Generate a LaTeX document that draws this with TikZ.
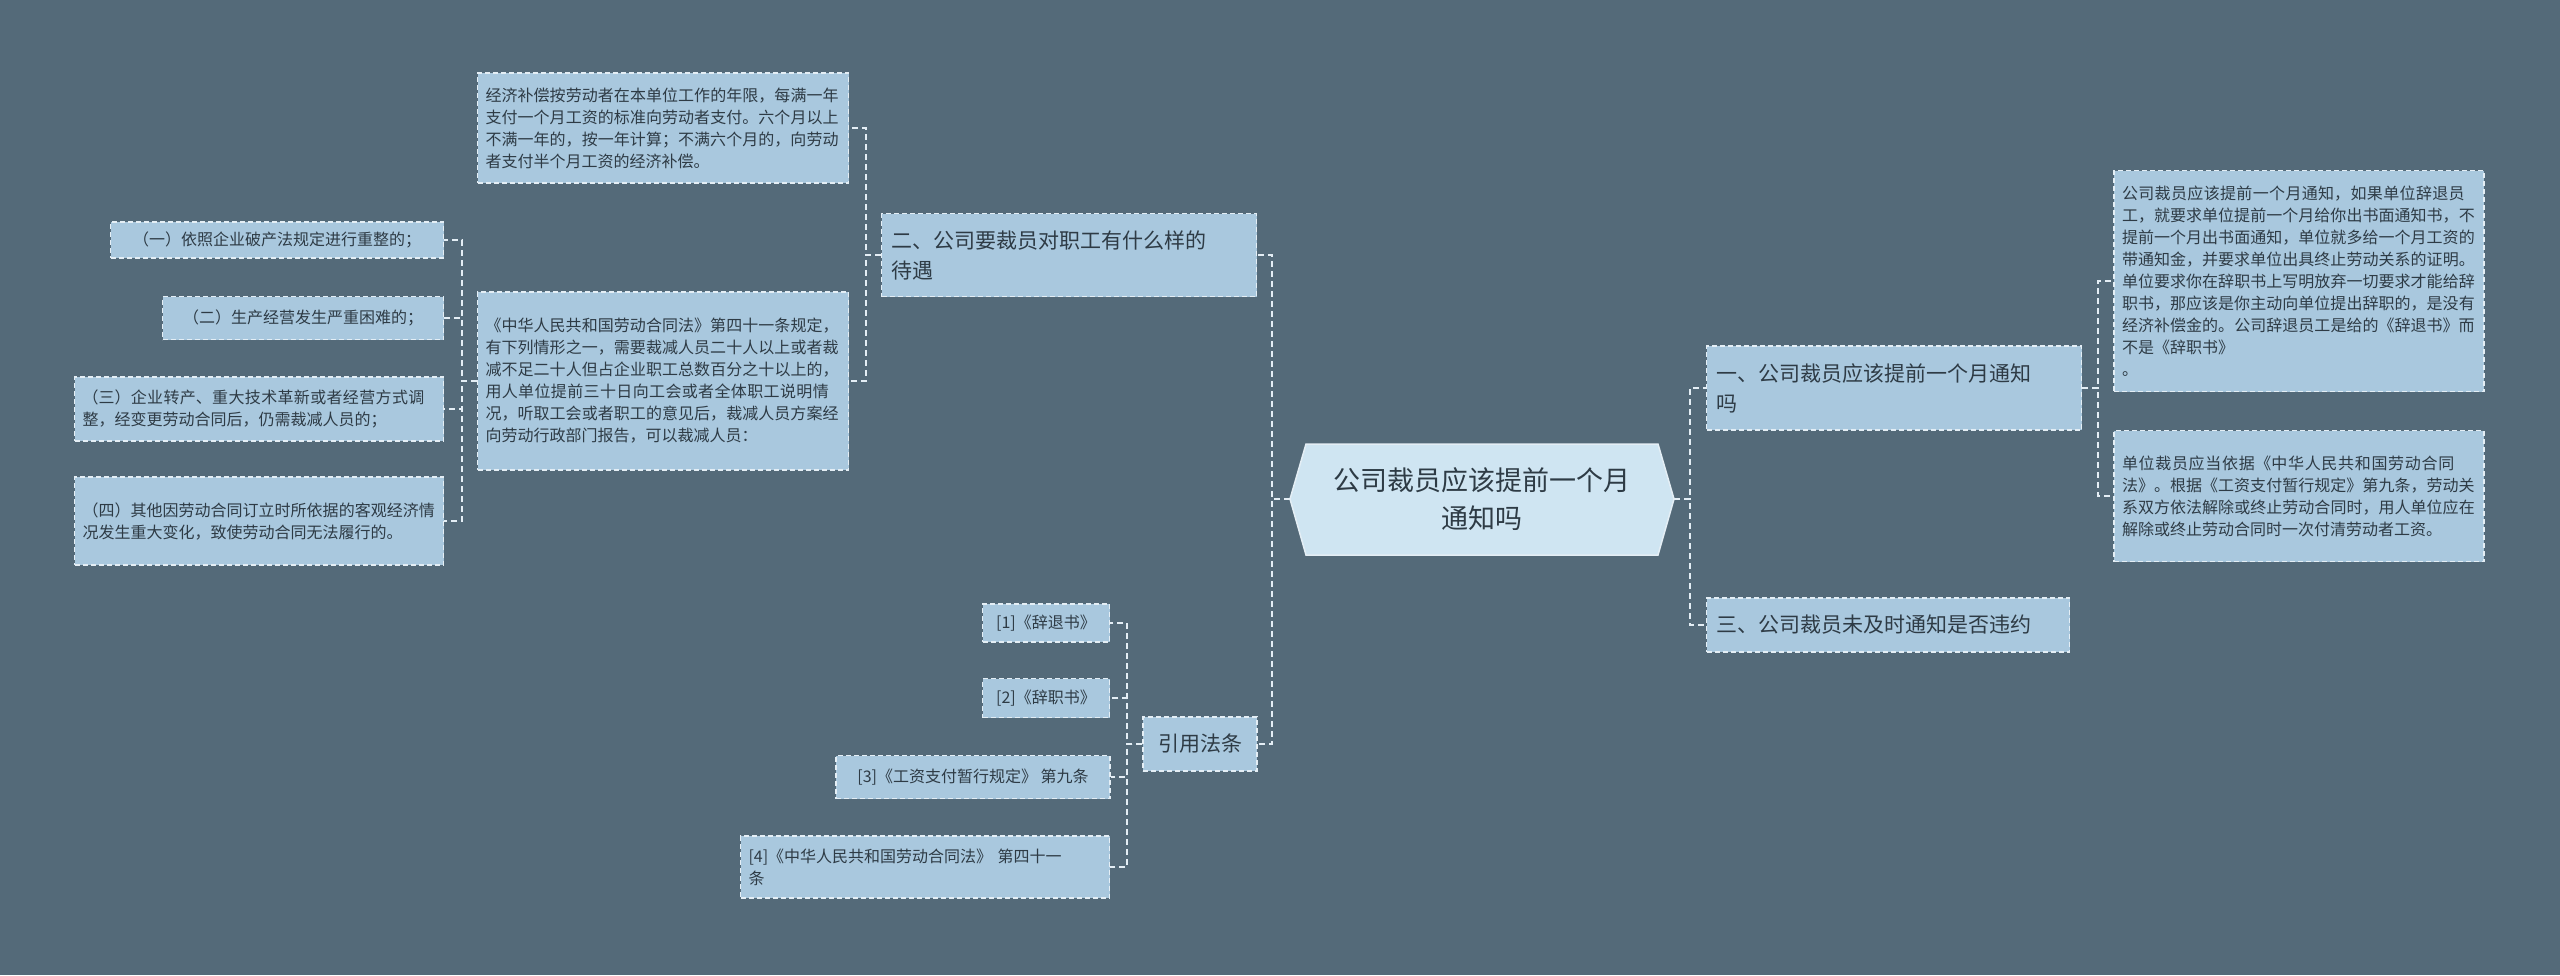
\documentclass[tikz,border=0pt]{standalone}
\usepackage{fontspec}
\setmainfont{Noto Sans CJK SC}
\XeTeXlinebreaklocale "zh"
\XeTeXlinebreakskip=0pt plus 1pt
\definecolor{bg}{HTML}{546A79}
\definecolor{boxf}{HTML}{A9C8DE}
\definecolor{cenf}{HTML}{CFE5F2}
\definecolor{txt}{HTML}{2E3B45}
\definecolor{edge}{HTML}{E4EEF5}
\tikzset{
 box/.style={draw=edge, dashed, dash pattern=on 5pt off 3pt, line width=1.5pt, fill=boxf, text=txt, inner sep=8pt, align=left, font=\fontsize{16}{22}\selectfont},
 big/.style={box, font=\fontsize{21}{30}\selectfont, inner sep=10pt},
 conn/.style={draw=edge, dashed, dash pattern=on 6pt off 4pt, line width=1.5pt},
}
\begin{document}
\begin{tikzpicture}[x=1pt,y=-1pt]
\fill[bg] (0,0) rectangle (2560,975);
\useasboundingbox (0,0) rectangle (2560,975);
% center
\fill[cenf, draw=edge, line width=1.5pt] (1290,499) -- (1306,444) -- (1658,444) -- (1674,499) -- (1658,555) -- (1306,555) -- cycle;
\node[text=txt, minimum width=384pt, minimum height=111pt, align=center, font=\fontsize{27}{38}\selectfont] (c) at (1482,499) {公司裁员应该提前一个月\\通知吗};
% right
\node[big, text width=355pt, minimum height=84pt] (r1) at (1894,388) {一、公司裁员应该提前一个月通知\\吗};
\node[big, text width=343pt, minimum height=54pt] (r3) at (1888,625) {三、公司裁员未及时通知是否违约};
\node[box, text width=354pt, minimum height=221pt] (r1a) at (2299,281) {公司裁员应该提前一个月通知，如果单位辞退员工，就要求单位提前一个月给你出书面通知书，不提前一个月出书面通知，单位就多给一个月工资的带通知金，并要求单位出具终止劳动关系的证明。单位要求你在辞职书上写明放弃一切要求才能给辞职书，那应该是你主动向单位提出辞职的，是没有经济补偿金的。公司辞退员工是给的《辞退书》而不是《辞职书》\\。};
\node[box, text width=354pt, minimum height=131pt] (r1b) at (2299,496) {单位裁员应当依据《中华人民共和国劳动合同法》。根据《工资支付暂行规定》第九条，劳动关系双方依法解除或终止劳动合同时，用人单位应在解除或终止劳动合同时一次付清劳动者工资。};
% left
\node[big, text width=355pt, minimum height=83pt] (l2) at (1069,255) {二、公司要裁员对职工有什么样的\\待遇};
\node[big, minimum height=54pt, minimum width=114pt, align=center] (ly) at (1200,744) {引用法条};
\node[box, text width=355pt, minimum height=110pt] (t1) at (663,128) {经济补偿按劳动者在本单位工作的年限，每满一年支付一个月工资的标准向劳动者支付。六个月以上不满一年的，按一年计算；不满六个月的，向劳动者支付半个月工资的经济补偿。};
\node[box, text width=355pt, minimum height=178pt] (t2) at (663,381) {《中华人民共和国劳动合同法》第四十一条规定，有下列情形之一，需要裁减人员二十人以上或者裁减不足二十人但占企业职工总数百分之十以上的，用人单位提前三十日向工会或者全体职工说明情况，听取工会或者职工的意见后，裁减人员方案经向劳动行政部门报告，可以裁减人员：};
\node[box, minimum height=36pt, minimum width=333pt, align=center] (s1) at (277,240) {（一）依照企业破产法规定进行重整的；};
\node[box, minimum height=43pt, minimum width=281pt, align=center] (s2) at (303,318) {（二）生产经营发生严重困难的；};
\node[box, text width=353pt, minimum height=64pt] (s3) at (259,409) {（三）企业转产、重大技术革新或者经营方式调整，经变更劳动合同后，仍需裁减人员的；};
\node[box, text width=353pt, minimum height=88pt] (s4) at (259,521) {（四）其他因劳动合同订立时所依据的客观经济情况发生重大变化，致使劳动合同无法履行的。};
\node[box, minimum height=38pt, minimum width=127pt, align=center] (f1) at (1046,623) {[1]《辞退书》};
\node[box, minimum height=39pt, minimum width=127pt, align=center] (f2) at (1046,698) {[2]《辞职书》};
\node[box, minimum height=43pt, minimum width=274pt, align=center] (f3) at (973,777) {[3]《工资支付暂行规定》 第九条};
\node[box, text width=353pt, minimum height=62pt] (f4) at (925,867) {[4]《中华人民共和国劳动合同法》 第四十一\\条};
% connectors
\foreach \n in {r1,r3} \draw[conn] (c.east) -- (1690,499) |- (\n.west);
\foreach \n in {l2,ly} \draw[conn] (c.west) -- (1272,499) |- (\n.east);
\foreach \n in {r1a,r1b} \draw[conn] (r1.east) -- (2098,388) |- (\n.west);
\foreach \n in {t1,t2} \draw[conn] (l2.west) -- (866,255) |- (\n.east);
\foreach \n in {s1,s2,s3,s4} \draw[conn] (t2.west) -- (462,381) |- (\n.east);
\foreach \n in {f1,f2,f3,f4} \draw[conn] (ly.west) -- (1127,744) |- (\n.east);
\end{tikzpicture}
\end{document}
